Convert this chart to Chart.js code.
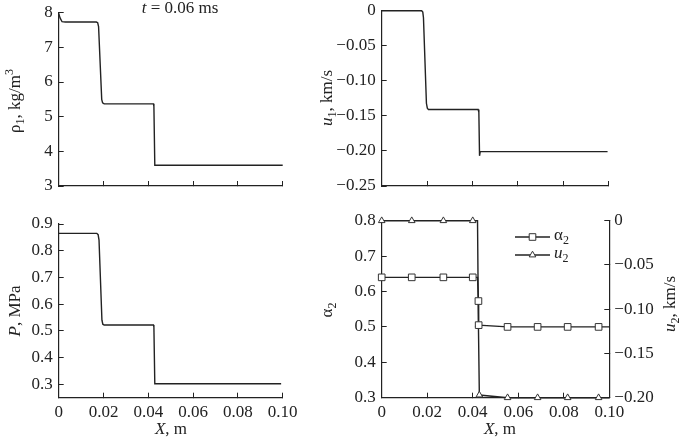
<!DOCTYPE html>
<html>
<head>
<meta charset="utf-8">
<script src="https://cdn.jsdelivr.net/npm/chart.js@4/dist/chart.umd.min.js"></script>
<style>
  body { margin: 0; background: #fff; width: 685px; height: 441px; overflow: hidden; position: relative; }
  canvas { position: absolute; left: 0; top: 0; }
</style>
</head>
<body>
<canvas id="rho" width="685" height="441"></canvas>
<canvas id="u1" width="685" height="441"></canvas>
<canvas id="p" width="685" height="441"></canvas>
<canvas id="a2" width="685" height="441"></canvas>
<script>
// x positions in m
const xTicks = [0, 0.02, 0.04, 0.06, 0.08, 0.10];

// gas density, kg/m3
const rhoX = [0, 0.0006, 0.0015, 0.003, 0.0168, 0.0174, 0.0178, 0.0192, 0.0196, 0.0203, 0.0423, 0.0425, 0.0429, 0.1];
const rhoY = [7.98, 7.85, 7.74, 7.73, 7.73, 7.71, 7.60, 5.50, 5.40, 5.37, 5.37, 5.30, 3.60, 3.60];
const rhoTicks = [3, 4, 5, 6, 7, 8];

// gas velocity, km/s
const u1X = [0, 0.0176, 0.0181, 0.0184, 0.0197, 0.0201, 0.0206, 0.0425, 0.0428, 0.0431, 0.0434, 0.0995];
const u1Y = [0, 0, -0.002, -0.01, -0.132, -0.139, -0.141, -0.141, -0.145, -0.207, -0.201, -0.201];
const u1Ticks = [0, -0.05, -0.10, -0.15, -0.20, -0.25];

// pressure, MPa
const pX = [0, 0.0170, 0.0176, 0.0180, 0.0193, 0.0197, 0.0203, 0.0423, 0.0425, 0.0429, 0.0993];
const pY = [0.865, 0.865, 0.86, 0.84, 0.54, 0.525, 0.522, 0.522, 0.515, 0.302, 0.302];
const pTicks = [0.3, 0.4, 0.5, 0.6, 0.7, 0.8, 0.9];

// volume fraction of particles
const a2X = [0, 0.0132, 0.0271, 0.0400, 0.0421, 0.0425, 0.0426, 0.0553, 0.0685, 0.0817, 0.0953, 0.1];
const a2Y = [0.64, 0.64, 0.64, 0.64, 0.64, 0.573, 0.505, 0.50, 0.50, 0.50, 0.50, 0.50];
const a2MarkX = [0, 0.0132, 0.0271, 0.0400, 0.0425, 0.0426, 0.0553, 0.0685, 0.0817, 0.0953];
const a2MarkY = [0.64, 0.64, 0.64, 0.64, 0.573, 0.505, 0.50, 0.50, 0.50, 0.50];
const a2Ticks = [0.3, 0.4, 0.5, 0.6, 0.7, 0.8];

// particle velocity, km/s
const u2X = [0, 0.0132, 0.0271, 0.0400, 0.0421, 0.0425, 0.0429, 0.0553, 0.0685, 0.0817, 0.0953, 0.1];
const u2Y = [0, 0, 0, 0, 0, -0.118, -0.197, -0.20, -0.20, -0.20, -0.20, -0.20];
const u2MarkX = [0, 0.0132, 0.0271, 0.0400, 0.0425, 0.0429, 0.0553, 0.0685, 0.0817, 0.0953];
const u2MarkY = [0, 0, 0, 0, -0.118, -0.197, -0.20, -0.20, -0.20, -0.20];
const u2Ticks = [0, -0.05, -0.10, -0.15, -0.20];

const ink = '#222';
const family = '"Liberation Serif", "Times New Roman", serif';
const tickFont = { family: family, size: 17 };

const pts = (xs, ys) => xs.map((x, i) => ({ x: x, y: ys[i] }));
const num = (v, d) => v === 0 ? '0' : (v < 0 ? '\u2212' + Math.abs(v).toFixed(d) : v.toFixed(d));

// text with italics, sub- and superscripts
function drawRich(ctx, item) {
  ctx.save();
  ctx.translate(item.x, item.y);
  if (item.rot) ctx.rotate(item.rot);
  ctx.fillStyle = ink;
  ctx.textBaseline = 'middle';
  ctx.textAlign = 'left';
  const fontOf = p => (p.i ? 'italic ' : '') + (p.sub || p.sup ? 12 : 17) + 'px ' + family;
  let w = 0;
  item.parts.forEach(p => { ctx.font = fontOf(p); p.w = ctx.measureText(p.t).width; w += p.w; });
  let cx = item.align === 'left' ? 0 : -w / 2;
  item.parts.forEach(p => {
    ctx.font = fontOf(p);
    ctx.fillText(p.t, cx, p.sub ? 5 : (p.sup ? -6 : 0));
    cx += p.w;
  });
  ctx.restore();
}

const textPlugin = items => ({
  id: 'richText',
  afterDraw(chart) { items.forEach(it => drawRich(chart.ctx, it)); }
});

function marker(ctx, style, x, y) {
  ctx.save();
  ctx.fillStyle = '#fff';
  ctx.strokeStyle = '#333';
  ctx.lineWidth = 1;
  ctx.beginPath();
  if (style === 'rect') {
    ctx.rect(x - 3.3, y - 3.3, 6.6, 6.6);
  } else {
    ctx.moveTo(x, y - 3.8);
    ctx.lineTo(x + 3.3, y + 1.9);
    ctx.lineTo(x - 3.3, y + 1.9);
    ctx.closePath();
  }
  ctx.fill();
  ctx.stroke();
  ctx.restore();
}

const legendPlugin = {
  id: 'lineLegend',
  afterDraw(chart) {
    const ctx = chart.ctx;
    const rows = [
      { y: 237, style: 'rect', parts: [{ t: '\u03b1' }, { t: '2', sub: true }] },
      { y: 255, style: 'triangle', parts: [{ t: 'u', i: true }, { t: '2', sub: true }] }
    ];
    rows.forEach(r => {
      ctx.save();
      ctx.strokeStyle = ink;
      ctx.lineWidth = 1.4;
      ctx.beginPath();
      ctx.moveTo(515, r.y);
      ctx.lineTo(550, r.y);
      ctx.stroke();
      ctx.restore();
      marker(ctx, r.style, 532.5, r.y);
      drawRich(ctx, { x: 554, y: r.y - 1, align: 'left', parts: r.parts });
    });
  }
};

// scale boxes get a fixed size, so the chart areas land where the panels are
function xScale(showLabels, h) {
  return {
    type: 'linear', min: 0, max: 0.1,
    afterBuildTicks: s => { s.ticks = xTicks.map(v => ({ value: v })); },
    afterFit: s => { s.height = h; s.paddingLeft = 0; s.paddingRight = 0; },
    grid: { drawOnChartArea: false, tickLength: -5, color: ink },
    border: { color: ink, width: 1.2 },
    ticks: { display: showLabels, padding: 10, color: ink, font: tickFont, maxRotation: 0, autoSkip: false,
             callback: v => num(v, 2) }
  };
}

function yScale(ticks, min, max, pos, digits, w) {
  return {
    type: 'linear', min: min, max: max, position: pos,
    afterBuildTicks: s => { s.ticks = ticks.map(v => ({ value: v })); },
    afterFit: s => { s.width = w; s.paddingTop = 0; s.paddingBottom = 0; },
    grid: { drawOnChartArea: false, tickLength: -5, color: ink },
    border: { color: ink, width: 1.2 },
    ticks: { padding: pos === 'right' ? 10 : 11, color: ink, font: tickFont, autoSkip: false,
             callback: v => num(v, digits) }
  };
}

const lineSet = (xs, ys, axis) => ({
  data: pts(xs, ys), yAxisID: axis || 'y', borderColor: ink, borderWidth: 1.4,
  pointRadius: 0, tension: 0, fill: false, clip: false, order: 1
});
const markSet = (xs, ys, axis, style, r) => ({
  data: pts(xs, ys), yAxisID: axis || 'y', showLine: false, pointStyle: style,
  pointRadius: r, pointBackgroundColor: '#fff', pointBorderColor: '#333',
  pointBorderWidth: 1, clip: false, order: 0
});

function panel(id, pad, datasets, scales, plugins) {
  return new Chart(document.getElementById(id), {
    type: 'line',
    data: { datasets: datasets },
    options: {
      responsive: false, animation: false, events: [],
      layout: { padding: pad },
      plugins: { legend: { display: false }, tooltip: { enabled: false } },
      scales: scales
    },
    plugins: plugins
  });
}

panel('rho', { left: 0, right: 402.3, top: 12.7, bottom: 255 },
  [lineSet(rhoX, rhoY)],
  { x: xScale(false, 0), y: yScale(rhoTicks, 3, 8, 'left', 0, 58.7) },
  [textPlugin([
    { x: 16, y: 101, rot: -Math.PI / 2, parts: [{ t: '\u03c1' }, { t: '1', sub: true }, { t: ', kg/m' }, { t: '3', sup: true }] },
    { x: 180, y: 9, parts: [{ t: 't', i: true }, { t: ' = 0.06 ms' }] }
  ])]);

panel('u1', { left: 0, right: 76.3, top: 10.7, bottom: 255 },
  [lineSet(u1X, u1Y)],
  { x: xScale(false, 0), y: yScale(u1Ticks, -0.25, 0, 'left', 2, 381.7) },
  [textPlugin([
    { x: 328, y: 98, rot: -Math.PI / 2, parts: [{ t: 'u', i: true }, { t: '1', sub: true }, { t: ', km/s' }] }
  ])]);

panel('p', { left: 0, right: 402.3, top: 224, bottom: 0 },
  [lineSet(pX, pY)],
  { x: xScale(true, 43.3), y: yScale(pTicks, 0.25, 0.9, 'left', 1, 58.7) },
  [textPlugin([
    { x: 16, y: 311, rot: -Math.PI / 2, parts: [{ t: 'P', i: true }, { t: ', MPa' }] },
    { x: 171, y: 430, parts: [{ t: 'X', i: true }, { t: ', m' }] }
  ])]);

panel('a2', { left: 0, right: 0, top: 220.7, bottom: 0 },
  [lineSet(a2X, a2Y), lineSet(u2X, u2Y, 'y2'),
   markSet(a2MarkX, a2MarkY, 'y', 'rect', 4.7), markSet(u2MarkX, u2MarkY, 'y2', 'triangle', 3.8)],
  { x: xScale(true, 43.3), y: yScale(a2Ticks, 0.3, 0.8, 'left', 1, 381.7),
    y2: yScale(u2Ticks, -0.2, 0, 'right', 2, 75.7) },
  [textPlugin([
    { x: 328, y: 310, rot: -Math.PI / 2, parts: [{ t: '\u03b1' }, { t: '2', sub: true }] },
    { x: 671, y: 304, rot: -Math.PI / 2, parts: [{ t: 'u', i: true }, { t: '2', sub: true }, { t: ', km/s' }] },
    { x: 500, y: 430, parts: [{ t: 'X', i: true }, { t: ', m' }] }
  ]), legendPlugin]);
</script>
</body>
</html>
